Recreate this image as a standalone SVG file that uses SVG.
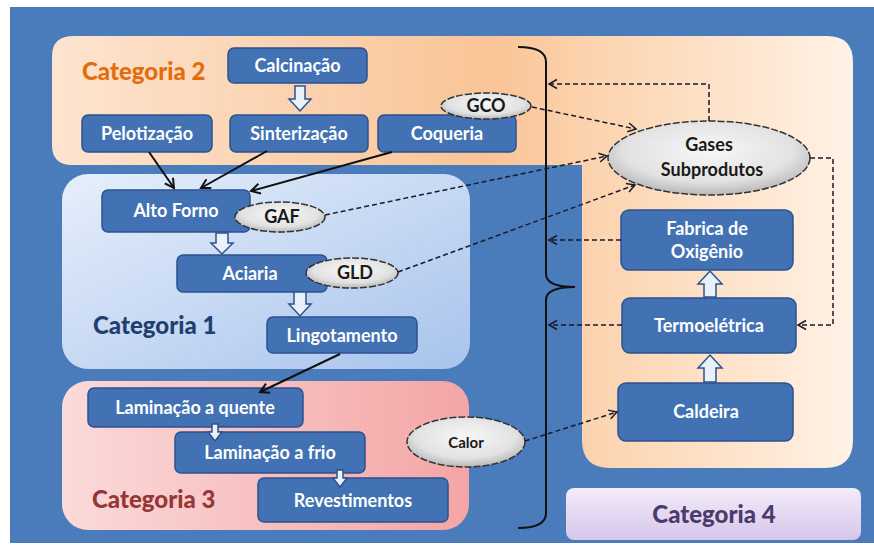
<svg xmlns="http://www.w3.org/2000/svg" width="874" height="547" viewBox="0 0 874 547">
<defs>
<linearGradient id="gPeach" gradientUnits="userSpaceOnUse" x1="52" y1="0" x2="853" y2="0">
<stop offset="0" stop-color="#fde4cf"/>
<stop offset="0.55" stop-color="#f9c497"/>
<stop offset="0.68" stop-color="#fcd4b0"/>
<stop offset="1" stop-color="#fff2e6"/>
</linearGradient>
<linearGradient id="gBlue" x1="0" y1="0" x2="1" y2="1">
<stop offset="0" stop-color="#e6effb"/>
<stop offset="1" stop-color="#a8c3ec"/>
</linearGradient>
<linearGradient id="gPink" x1="0" y1="0" x2="1" y2="0">
<stop offset="0" stop-color="#fbdada"/>
<stop offset="1" stop-color="#f4a5a5"/>
</linearGradient>
<linearGradient id="gLav" x1="0" y1="0" x2="0" y2="1">
<stop offset="0" stop-color="#f3ecfa"/>
<stop offset="1" stop-color="#d5c6ea"/>
</linearGradient>
<radialGradient id="gEll" cx="0.5" cy="0.4" r="0.6">
<stop offset="0" stop-color="#f7f7f7"/>
<stop offset="0.7" stop-color="#e2e2e2"/>
<stop offset="1" stop-color="#b8b8b8"/>
</radialGradient>
<marker id="aSolid" markerWidth="12" markerHeight="12" refX="10" refY="6" orient="auto" markerUnits="userSpaceOnUse">
<path d="M1,1 L10,6 L1,11" fill="none" stroke="#111" stroke-width="2"/>
</marker>
<marker id="aDash" markerWidth="12" markerHeight="12" refX="10" refY="6" orient="auto" markerUnits="userSpaceOnUse">
<path d="M2,1.5 L10,6 L2,10.5" fill="none" stroke="#1a1a2a" stroke-width="1.5"/>
</marker>
<style>
.node rect{fill:#4272b4;stroke:#2c5290;stroke-width:1.5}
.nt{font-family:Lato,"Open Sans",sans-serif;font-weight:bold;font-size:18px;fill:#ffffff;text-anchor:middle}
.ell{fill:url(#gEll);stroke:#333;stroke-width:1.5;stroke-dasharray:7 2}
.et{font-family:Lato,"Open Sans",sans-serif;font-weight:bold;font-size:18px;fill:#1a1a1a;text-anchor:middle}
.cat{font-family:Lato,"Open Sans",sans-serif;font-weight:900;font-size:24px}
.solid{fill:none;stroke:#111;stroke-width:2;marker-end:url(#aSolid)}
.dash{fill:none;stroke:#1a1a2a;stroke-width:1.5;stroke-dasharray:5 3;marker-end:url(#aDash)}
.barrow{fill:#eaf1fb;stroke:#2c5290;stroke-width:1.5}
</style>
</defs>

<rect x="0" y="0" width="874" height="547" fill="#ffffff"/>
<rect x="10" y="7" width="864" height="536" fill="#4a7bbb"/>

<g id="panels">
<path d="M74,36 H827 Q853,36 853,62 V440 Q853,468 825,468 H610 Q582,468 582,440 V165 H72 Q52,165 52,145 V56 Q52,36 74,36 Z" fill="url(#gPeach)"/>
<rect x="62" y="174" width="408" height="195" rx="26" fill="url(#gBlue)"/>
<rect x="62" y="381" width="407" height="149" rx="26" fill="url(#gPink)"/>
<rect x="566" y="488" width="295" height="52" rx="8" fill="url(#gLav)"/>
</g>

<g id="labels">
<text class="cat" x="82" y="80" fill="#e46c0a">Categoria 2</text>
<text class="cat" x="93" y="334" fill="#1f3f6e">Categoria 1</text>
<text class="cat" x="92" y="508" fill="#953735">Categoria 3</text>
<text class="cat" x="714" y="523" fill="#4b3a6b" text-anchor="middle">Categoria 4</text>
</g>

<g id="brace">
<path d="M518,47 Q546,47 546,62 V274 Q546,287 575,287 Q546,287 546,300 V513 Q546,528 518,528" fill="none" stroke="#111" stroke-width="2"/>
</g>

<g id="calcinacao" class="node"><rect x="228" y="48" width="139" height="35" rx="6"/><text class="nt" x="297.5" y="72">Calcinação</text></g>
<g id="pelotizacao" class="node"><rect x="82" y="115" width="130" height="37" rx="6"/><text class="nt" x="147" y="140">Pelotização</text></g>
<g id="sinterizacao" class="node"><rect x="230" y="115" width="138" height="37" rx="6"/><text class="nt" x="299" y="140">Sinterização</text></g>
<g id="coqueria" class="node"><rect x="378" y="115" width="138" height="37" rx="6"/><text class="nt" x="447" y="140">Coqueria</text></g>
<g id="gco"><ellipse class="ell" cx="486" cy="106" rx="45" ry="13"/><text class="et" x="486" y="112">GCO</text></g>

<g id="gases"><ellipse class="ell" cx="709" cy="158" rx="101" ry="37"/><text class="et" x="709" y="151">Gases</text><text class="et" x="712" y="176">Subprodutos</text></g>

<g id="altoforno" class="node"><rect x="102" y="190" width="148" height="42" rx="6"/><text class="nt" x="176" y="217">Alto Forno</text></g>
<g id="gaf"><ellipse class="ell" cx="280" cy="217" rx="45" ry="15"/><text class="et" x="282" y="223">GAF</text></g>
<g id="aciaria" class="node"><rect x="177" y="255" width="150" height="37" rx="6"/><text class="nt" x="250" y="280">Aciaria</text></g>
<g id="gld"><ellipse class="ell" cx="352" cy="273" rx="46" ry="15"/><text class="et" x="355" y="279">GLD</text></g>
<g id="lingotamento" class="node"><rect x="267" y="317" width="150" height="36" rx="6"/><text class="nt" x="342" y="342">Lingotamento</text></g>

<g id="laminacaoquente" class="node"><rect x="88" y="388" width="215" height="39" rx="6"/><text class="nt" x="195" y="414">Laminação a quente</text></g>
<g id="laminacaofrio" class="node"><rect x="175" y="432" width="190" height="41" rx="6"/><text class="nt" x="270" y="459">Laminação a frio</text></g>
<g id="revestimentos" class="node"><rect x="258" y="478" width="190" height="44" rx="6"/><text class="nt" x="353" y="507">Revestimentos</text></g>
<g id="calor"><ellipse class="ell" cx="466" cy="442" rx="59" ry="25"/><text class="et" x="466" y="448" style="font-size:15px">Calor</text></g>

<g id="fabrica" class="node"><rect x="621" y="210" width="172" height="60" rx="8"/><text class="nt" x="707" y="235">Fabrica de</text><text class="nt" x="707" y="258">Oxigênio</text></g>
<g id="termoeletrica" class="node"><rect x="622" y="298" width="174" height="55" rx="8"/><text class="nt" x="709" y="332">Termoelétrica</text></g>
<g id="caldeira" class="node"><rect x="618" y="383" width="175" height="58" rx="8"/><text class="nt" x="706" y="418">Caldeira</text></g>

<g id="connectors">
<line class="solid" x1="149" y1="152" x2="174" y2="188"/>
<line class="solid" x1="267" y1="151" x2="201" y2="188"/>
<line class="solid" x1="392" y1="152" x2="251" y2="191"/>
<line class="solid" x1="340" y1="354" x2="260" y2="392"/>
<line class="dash" x1="532" y1="107" x2="636" y2="129"/>
<line class="dash" x1="325" y1="215" x2="607" y2="156"/>
<line class="dash" x1="398" y1="272" x2="635" y2="185"/>
<path class="dash" d="M709,121 V84 H549"/>
<path class="dash" d="M810,158 H833 V325 H798"/>
<line class="dash" x1="621" y1="240" x2="549" y2="240"/>
<line class="dash" x1="622" y1="325" x2="549" y2="325"/>
<line class="dash" x1="525" y1="441" x2="617" y2="412"/>
<path class="barrow" d="M295,86 H305 V99 H311 L300,111 L289,99 H295 Z"/>
<path class="barrow" d="M216,233 H228 V243 H233 L222,254 L211,243 H216 Z"/>
<path class="barrow" d="M294,292 H306 V304 H311 L300,316 L289,304 H294 Z"/>
<path class="barrow" d="M212,424 H218 V432 H222 L215,441 L208,432 H212 Z"/>
<path class="barrow" d="M337,470 H343 V478 H347 L340,487 L333,478 H337 Z"/>
<path class="barrow" d="M704,297 H716 V284 H722 L710,271 L698,284 H704 Z"/>
<path class="barrow" d="M704,382 H716 V368 H722 L710,355 L698,368 H704 Z"/>
</g>
</svg>
